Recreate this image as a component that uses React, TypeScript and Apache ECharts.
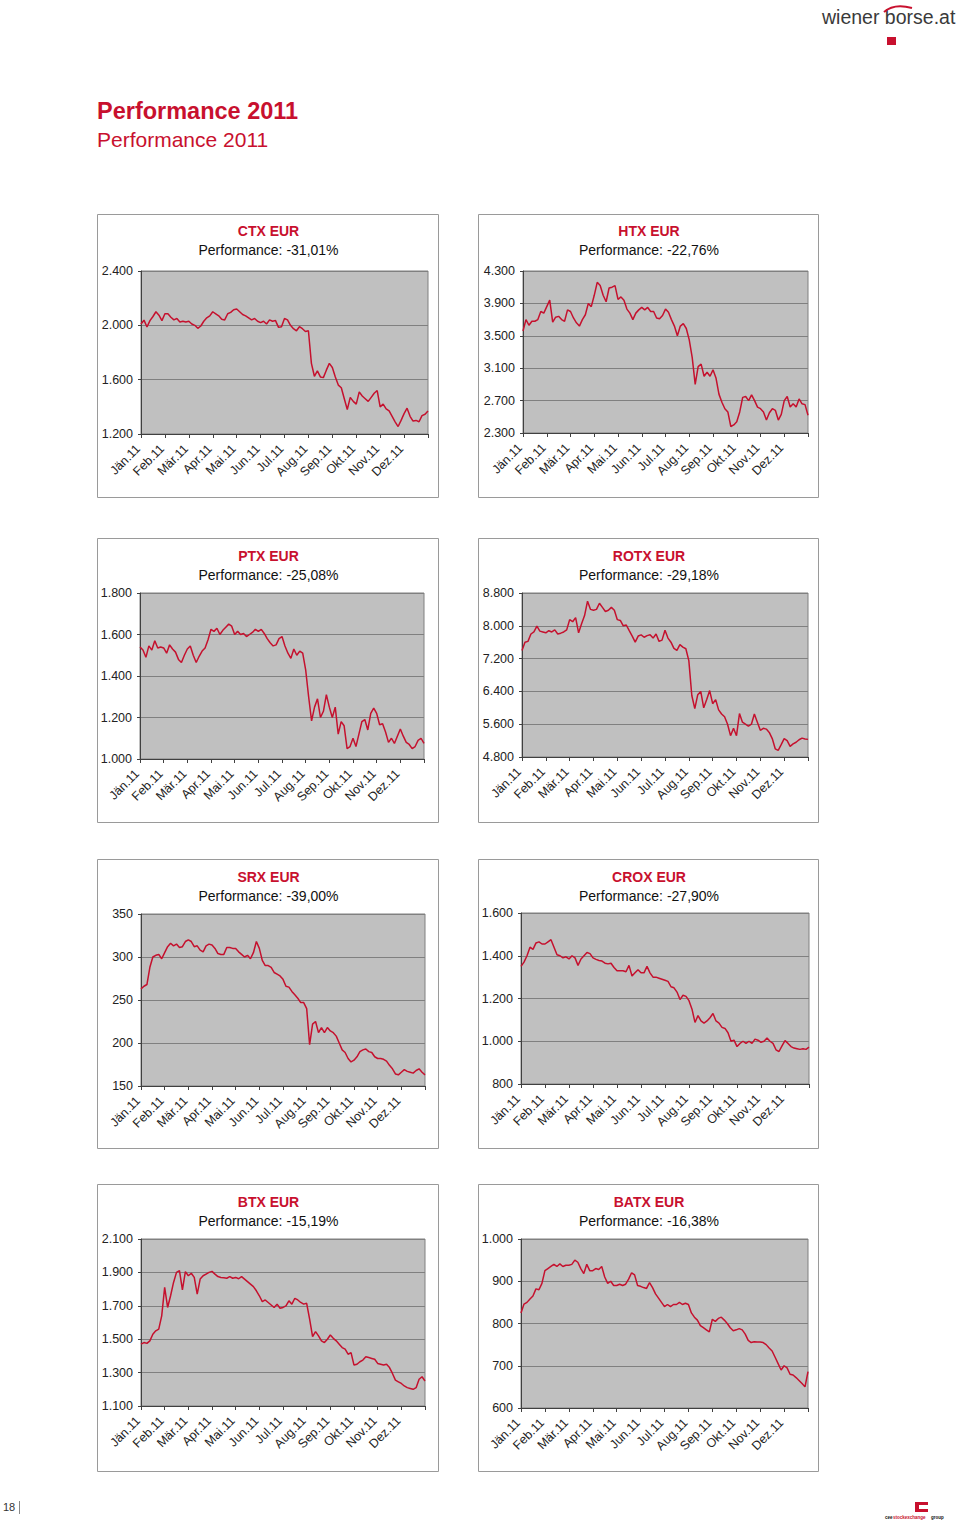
import React, { useEffect, useRef } from 'react';
import * as echarts from 'echarts';

// ---------- data ----------
const MONTHS = ['Jän.11', 'Feb.11', 'Mär.11', 'Apr.11', 'Mai.11', 'Jun.11', 'Jul.11', 'Aug.11', 'Sep.11', 'Okt.11', 'Nov.11', 'Dez.11'];
const POINTS_PER_MONTH = 8;

const INDEX_NAMES = ['CTX EUR', 'HTX EUR', 'PTX EUR', 'ROTX EUR', 'SRX EUR', 'CROX EUR', 'BTX EUR', 'BATX EUR'];
const PERFORMANCE = ['-31,01%', '-22,76%', '-25,08%', '-29,18%', '-39,00%', '-27,90%', '-15,19%', '-16,38%'];
const Y_MIN = [1200, 2300, 1000, 4800, 150, 800, 1100, 600];
const Y_MAX = [2400, 4300, 1800, 8800, 350, 1600, 2100, 1000];
const Y_STEP = [400, 400, 200, 800, 50, 200, 200, 100];

const CTX = [
  2010, 2038, 1988, 2035, 2065, 2100, 2075, 2035,
  2085, 2085, 2060, 2040, 2050, 2025, 2030, 2025,
  2030, 2010, 2000, 1978, 1995, 2030, 2055, 2070,
  2100, 2085, 2070, 2045, 2040, 2085, 2095, 2115,
  2120, 2100, 2080, 2070, 2055, 2040, 2050, 2030,
  2020, 2030, 2010, 2040, 2030, 2035, 1985, 1990,
  2050, 2040, 2000, 1975, 1960, 1990, 1975, 1955,
  1960, 1720, 1625, 1665, 1620, 1615, 1670, 1720,
  1690, 1620, 1560, 1540, 1460, 1380, 1470, 1440,
  1420, 1510, 1480, 1460, 1440, 1470, 1500, 1520,
  1400, 1420, 1385, 1370, 1330, 1290, 1255, 1300,
  1350, 1390, 1330, 1295, 1300, 1290, 1335, 1345, 1370,
];
const HTX = [
  3560, 3700, 3630, 3680, 3680, 3700, 3800, 3780,
  3860, 3940, 3670, 3730, 3740, 3700, 3680, 3820,
  3800, 3720, 3660, 3620, 3700, 3760, 3900, 3860,
  4000, 4160, 4120, 4000, 3920, 4090, 4100, 4120,
  3950, 3980, 3940, 3830, 3780, 3700, 3780, 3820,
  3850, 3820, 3850, 3800, 3800, 3720, 3710, 3750,
  3830, 3790, 3700, 3620, 3500, 3620, 3650, 3590,
  3450, 3230, 2900, 3120, 3150, 3000, 3050, 3000,
  3080, 2980, 2780, 2680, 2600, 2560, 2380, 2400,
  2440, 2560, 2740, 2750, 2700, 2770, 2700, 2620,
  2600, 2560, 2460, 2550, 2600, 2580, 2460, 2530,
  2700, 2750, 2620, 2660, 2620, 2720, 2660, 2650, 2520,
];
const PTX = [
  1540, 1525, 1490, 1545, 1525, 1570, 1535, 1540,
  1535, 1510, 1550, 1530, 1515, 1480, 1465, 1500,
  1530, 1545, 1500, 1465, 1495, 1520, 1535, 1575,
  1625, 1615, 1630, 1600, 1620, 1635, 1650, 1640,
  1600, 1615, 1600, 1605, 1590, 1600, 1610, 1625,
  1615, 1625, 1605, 1580, 1560, 1545, 1550, 1580,
  1590, 1545, 1510, 1485, 1530, 1500, 1520, 1510,
  1430, 1300, 1184, 1250, 1290, 1200, 1230, 1310,
  1250, 1200, 1250, 1120, 1180, 1160, 1050, 1060,
  1100, 1060, 1120, 1180, 1190, 1140, 1220, 1245,
  1220, 1165, 1170, 1130, 1080, 1100, 1075, 1110,
  1145, 1110, 1080, 1070, 1050, 1060, 1090, 1100, 1075,
];
const ROTX = [
  7400, 7600, 7620, 7800, 7850, 7990, 7870, 7850,
  7830, 7880, 7850, 7900, 7800, 7820, 7850, 7900,
  8150, 8100, 8200, 7830, 8050, 8250, 8600, 8400,
  8380, 8400, 8550, 8450, 8350, 8380, 8450, 8380,
  8150, 8130, 8000, 8020, 7880, 7750, 7600, 7750,
  7780, 7720, 7760, 7780, 7700, 7800, 7620, 7650,
  7890, 7700, 7600, 7450, 7400, 7540, 7480, 7440,
  7150, 6300, 5980, 6320, 6400, 6000, 6200, 6420,
  6100, 6200, 5950, 5850, 5780, 5600, 5320, 5500,
  5320, 5860, 5650, 5600, 5550, 5600, 5850, 5650,
  5450, 5500, 5480, 5400, 5250, 5000, 4960, 5100,
  5250, 5200, 5060, 5120, 5160, 5220, 5260, 5240, 5230,
];
const SRX = [
  263, 266, 268, 288, 300, 302, 303, 298,
  305, 312, 316, 313, 315, 311, 312, 318,
  320, 318, 312, 313, 308, 306, 313, 315,
  314, 310, 304, 303, 303, 311, 311, 310,
  310, 306, 303, 300, 302, 298, 305, 318,
  310, 296, 290, 290, 288, 282, 280, 278,
  274, 266, 265, 260, 256, 252, 247, 247,
  240, 198, 222, 225, 212, 218, 212, 218,
  214, 212, 208, 200, 192, 189, 182, 178,
  180, 184, 190, 192, 193, 190, 189, 184,
  182, 182, 181, 179, 174, 170, 164, 163,
  166, 169, 167, 166, 165, 168, 170, 166, 163,
];
const CROX = [
  1350, 1370, 1400, 1440, 1430, 1460, 1465, 1455,
  1455, 1465, 1475, 1440, 1405, 1400, 1390, 1395,
  1385, 1400, 1390, 1355, 1385, 1400, 1415, 1410,
  1390, 1383, 1378, 1375, 1365, 1362, 1365, 1345,
  1330, 1330, 1330, 1325, 1355, 1305, 1320, 1335,
  1320, 1320, 1350, 1320, 1300, 1300, 1295, 1290,
  1285, 1280, 1255, 1250, 1230, 1195, 1215, 1210,
  1190, 1150, 1088, 1120, 1095, 1085, 1095, 1110,
  1130, 1095, 1085, 1065, 1060, 1040, 1000, 1005,
  975, 990, 1000, 990, 1000, 990, 1010, 1005,
  995, 1000, 1015, 1000, 990, 960, 952, 978,
  1003, 990, 975, 968, 965, 962, 965, 962, 972,
];
const BTX = [
  1470, 1480, 1475, 1490, 1530, 1550, 1560, 1640,
  1810, 1690, 1760, 1840, 1900, 1910, 1795, 1905,
  1880, 1895, 1870, 1770, 1860, 1880, 1890, 1900,
  1906, 1890, 1875, 1870, 1868, 1865, 1875, 1865,
  1870, 1862, 1875, 1860, 1845, 1830, 1815, 1790,
  1760, 1725, 1735, 1720, 1705, 1690, 1710, 1685,
  1690, 1700, 1730, 1710, 1745, 1735, 1720, 1710,
  1715, 1620, 1515, 1545, 1520, 1490, 1480, 1500,
  1525, 1505, 1490, 1470, 1450, 1440, 1410, 1420,
  1345, 1350, 1365, 1375, 1395, 1390, 1385, 1380,
  1355, 1350, 1345, 1350, 1330, 1295, 1255, 1245,
  1235, 1220, 1210, 1205, 1200, 1210, 1260, 1275, 1250,
];
const BATX = [
  825, 846, 850, 858, 865, 882, 880, 895,
  925, 930, 935, 940, 935, 941, 935, 938,
  938, 940, 950, 945, 930, 918, 940, 925,
  925, 930, 928, 935, 910, 895, 900, 890,
  890, 893, 890, 893, 905, 920, 915, 890,
  888, 885, 883, 897, 885, 870, 860, 850,
  840, 845, 840, 845, 845, 850, 845, 848,
  845, 825, 815, 808, 795, 790, 785, 780,
  810, 805, 812, 815, 808, 800, 790, 783,
  785, 788, 785, 775, 760, 755, 757, 756,
  756, 755, 750, 742, 735, 720, 705, 690,
  700, 695, 680, 678, 672, 665, 658, 650, 686,
];
const SERIES = [CTX, HTX, PTX, ROTX, SRX, CROX, BTX, BATX];

// ---------- layout ----------
const BOXES = [
  [97, 214, 341, 283], [478, 214, 340, 283],
  [97, 538, 341, 284], [478, 538, 340, 284],
  [97, 859, 341, 289], [478, 859, 340, 289],
  [97, 1184, 341, 287], [478, 1184, 340, 287],
];
const GRIDS = [
  [141, 271, 287, 163], [523, 271, 285, 162],
  [140, 593, 284, 166], [522, 593, 286, 164],
  [141, 914, 284, 172], [521, 913, 288, 171],
  [141, 1239, 284, 167], [521, 1239, 287, 169],
];
const TITLE_Y = [231, 231, 556, 556, 877, 877, 1202, 1202];

const FONT = '"Liberation Sans", Arial, Helvetica, sans-serif';
const RED = '#c8102e';
const LINE_RED = '#c5112e';

const fmtDE = (v: number) => {
  const n = Math.round(v);
  if (n >= 1000) return Math.floor(n / 1000) + '.' + String(n % 1000).padStart(3, '0');
  return String(n);
};

function txt(x: number, y: number, text: string, size: number, fill: string, weight = 'normal', align = 'left') {
  return {
    type: 'text',
    x,
    y,
    silent: true,
    style: {
      text,
      fill,
      fontSize: size,
      fontFamily: FONT,
      fontWeight: weight,
      align,
      textAlign: align,
      verticalAlign: 'middle',
      textVerticalAlign: 'middle',
    },
  };
}

export default function App() {
  const ref = useRef<HTMLDivElement>(null);

  useEffect(() => {
    if (!ref.current) return;
    const chart = echarts.init(ref.current, undefined, { renderer: 'svg' });

    const grid: any[] = [];
    const xAxis: any[] = [];
    const yAxis: any[] = [];
    const series: any[] = [];
    const graphic: any[] = [];

    // page header
    graphic.push(txt(97, 111, 'Performance 2011', 23.5, RED, 'bold'));
    graphic.push(txt(97, 139, 'Performance 2011', 21, RED));
    // top right logo
    graphic.push(txt(822, 17, 'wiener borse.at', 19.5, '#3a3a3a'));
    graphic.push({
      type: 'bezierCurve',
      silent: true,
      shape: { x1: 884, y1: 12, cpx1: 894, cpy1: 3, x2: 912, y2: 8 },
      style: { stroke: RED, lineWidth: 2, fill: 'none' },
    });
    graphic.push({ type: 'rect', silent: true, shape: { x: 887, y: 37, width: 9, height: 8 }, style: { fill: RED } });
    // page number
    graphic.push(txt(3, 1507, '18', 11, '#333'));
    graphic.push({ type: 'line', silent: true, shape: { x1: 19.5, y1: 1501, x2: 19.5, y2: 1514 }, style: { stroke: '#888', lineWidth: 1 } });
    // bottom right logo
    graphic.push({ type: 'rect', silent: true, shape: { x: 915, y: 1502, width: 13, height: 10 }, style: { fill: RED } });
    graphic.push({ type: 'rect', silent: true, shape: { x: 919, y: 1505, width: 9, height: 4 }, style: { fill: '#ffffff' } });
    graphic.push(txt(885, 1517, 'cee', 4.5, '#111', 'bold'));
    graphic.push(txt(893, 1517, 'stockexchange', 4.5, RED, 'bold'));
    graphic.push(txt(931, 1517, 'group', 4.5, '#111', 'bold'));

    for (let i = 0; i < 8; i++) {
      const [bx, by, bw, bh] = BOXES[i];
      const [gl, gt, gw, gh] = GRIDS[i];
      graphic.push({
        type: 'rect',
        silent: true,
        shape: { x: bx + 0.5, y: by + 0.5, width: bw, height: bh },
        style: { fill: 'none', stroke: '#9a9a9a', lineWidth: 1 },
      });
      const cx = bx + bw / 2 + 1;
      graphic.push(txt(cx, TITLE_Y[i], INDEX_NAMES[i], 14, RED, 'bold', 'center'));
      graphic.push(txt(cx, TITLE_Y[i] + 19, 'Performance: ' + PERFORMANCE[i], 14, '#111', 'normal', 'center'));

      grid.push({
        left: gl,
        top: gt,
        width: gw,
        height: gh,
        show: true,
        backgroundColor: '#c0c0c0',
        borderColor: '#808080',
        borderWidth: 1,
        containLabel: false,
      });
      xAxis.push({
        gridIndex: i,
        type: 'value',
        min: 0,
        max: 12,
        interval: 1,
        axisLine: { show: true, onZero: false, lineStyle: { color: '#404040', width: 1 } },
        axisTick: { show: true, length: 4, lineStyle: { color: '#404040' } },
        splitLine: { show: false },
        axisLabel: {
          rotate: 45,
          margin: 10,
          padding: [0, 4, 0, 0],
          fontSize: 12.5,
          fontFamily: FONT,
          color: '#222',
          formatter: (v: number) => MONTHS[Math.round(v)] ?? '',
        },
      });
      yAxis.push({
        gridIndex: i,
        type: 'value',
        min: Y_MIN[i],
        max: Y_MAX[i],
        interval: Y_STEP[i],
        axisLine: { show: true, lineStyle: { color: '#404040', width: 1 } },
        axisTick: { show: true, length: 3, lineStyle: { color: '#404040' } },
        splitLine: { show: true, lineStyle: { color: '#808080', width: 1 } },
        axisLabel: { formatter: fmtDE, fontSize: 12.5, fontFamily: FONT, color: '#222', margin: 8 },
      });
      series.push({
        type: 'line',
        xAxisIndex: i,
        yAxisIndex: i,
        data: SERIES[i].map((v, k) => [k / POINTS_PER_MONTH, v]),
        showSymbol: false,
        symbol: 'none',
        silent: true,
        lineStyle: { color: LINE_RED, width: 1.5 },
      });
    }

    chart.setOption({
      animation: false,
      backgroundColor: '#ffffff',
      textStyle: { fontFamily: FONT },
      grid,
      xAxis,
      yAxis,
      series,
      graphic,
    });

    return () => chart.dispose();
  }, []);

  return (
    <div
      ref={ref}
      style={{ position: 'absolute', left: 0, top: 0, width: 960, height: 1520, background: '#fff' }}
    />
  );
}
